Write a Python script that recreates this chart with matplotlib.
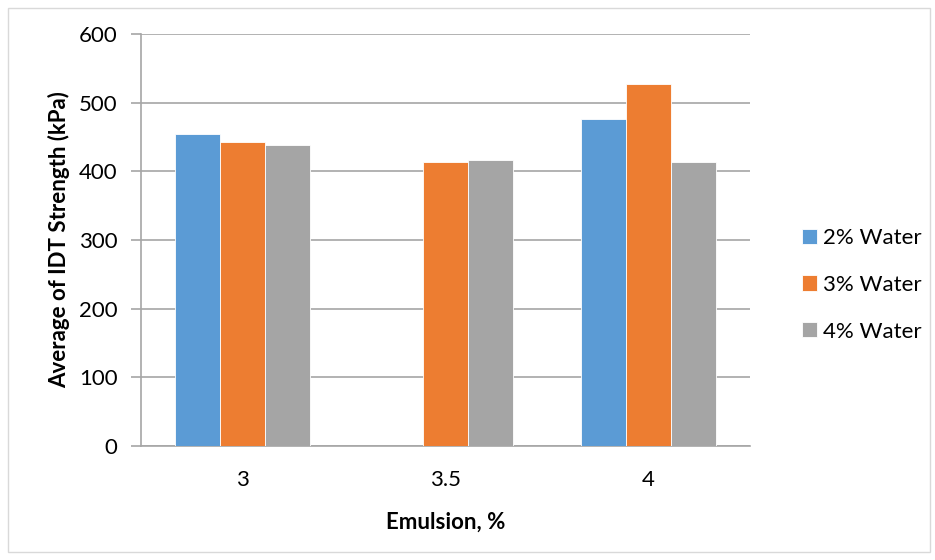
import matplotlib
matplotlib.use('Agg')
import matplotlib.pyplot as plt
import numpy as np
from matplotlib.patches import Rectangle

plt.rcParams['font.family'] = ['Lato', 'DejaVu Sans']

emulsion = ['3', '3.5', '4']
series = ['2% Water', '3% Water', '4% Water']
water_2 = [455, np.nan, 476]
water_3 = [443, 413, 527]
water_4 = [438, 417, 414]
colors = ['#5B9BD5', '#ED7D31', '#A5A5A5']

def main():
    fig = plt.figure(figsize=(9.35, 5.6), dpi=100)
    ax = fig.add_axes([141/935, 1-446/560, 609/935, 412/560])
    x = np.arange(len(emulsion))
    w = 0.221
    for i, (vals, lab, c) in enumerate(zip([water_2, water_3, water_4], series, colors)):
        ax.bar(x + (i - 1) * w, vals, w, color=c, label=lab, edgecolor='white', linewidth=0.6, zorder=3)
    ax.set_xlim(-0.5, 2.5); ax.set_ylim(0, 600)
    ax.set_yticks(range(0, 601, 100))
    ax.set_xticks(x); ax.set_xticklabels(emulsion)
    ax.grid(axis='y', color='#a6a6a6', linewidth=1.2, zorder=0)
    for s in ['top', 'right']: ax.spines[s].set_visible(False)
    for s in ['left', 'bottom']: ax.spines[s].set_color('#a6a6a6'); ax.spines[s].set_linewidth(1.2)
    ax.tick_params(axis='y', length=7, width=1.2, color='#a6a6a6', labelsize=16, pad=10)
    ax.tick_params(axis='x', length=0, labelsize=16, pad=17)
    ax.set_ylabel('Average of IDT Strength (kPa)', fontsize=16, fontweight='bold', labelpad=6)
    ax.set_xlabel('Emulsion, %', fontsize=16, fontweight='bold', labelpad=16)
    ax.legend(loc='center left', bbox_to_anchor=(1.052, 0.391), frameon=False, fontsize=16,
              handlelength=0.68, handleheight=0.68, handletextpad=0.27, labelspacing=1.2)
    fig.patches.append(Rectangle((8/935, 8/560), 922/935, 544/560, transform=fig.transFigure,
                                 fill=False, edgecolor='#d9d9d9', linewidth=1))
    fig.savefig('out.png', dpi=100, facecolor='white')
    plt.close(fig)

if __name__ == '__main__': main()
